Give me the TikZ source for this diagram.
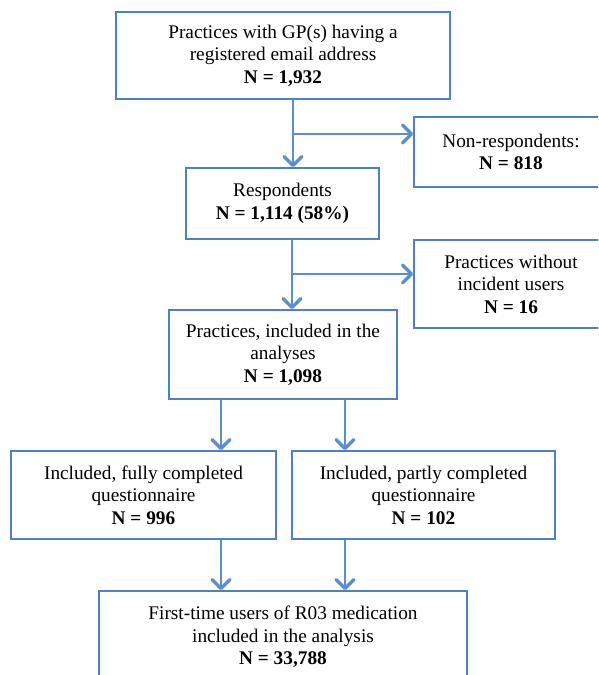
\documentclass[tikz,border=0pt]{standalone}
\usepackage{fontspec}
\setmainfont{Liberation Serif}
\usetikzlibrary{arrows.meta}
\definecolor{boxblue}{RGB}{79,129,189}
\definecolor{arrblue}{RGB}{92,143,202}
\begin{document}
\begin{tikzpicture}[x=1pt,y=-1pt,
  box/.style={draw=boxblue, line width=1.8pt, fill=white, align=center,
    inner sep=0pt, font=\fontsize{19.3}{22.5}\selectfont},
  arr/.style={draw=arrblue, line width=2.8pt, line join=round,
    -{Straight Barb[length=9pt,width=18pt,line width=3.2pt,line cap=round,line join=round]}}]
\useasboundingbox (0,0) rectangle (598,675);
\clip (0,0) rectangle (598,675);
\fill[white] (0,0) rectangle (598,675);

\node[box, minimum width=334pt, minimum height=87pt] (top) at (283,55.5)
  {Practices with GP(s) having a\\registered email address\\\textbf{N = 1,932}};
\node[box, minimum width=194pt, minimum height=70pt] (nonresp) at (511,152)
  {Non-respondents:\\\textbf{N = 818}};
\node[box, minimum width=193pt, minimum height=71pt] (resp) at (282.5,203.5)
  {Respondents\\\textbf{N = 1,114 (58\%)}};
\node[box, minimum width=194pt, minimum height=88pt] (without) at (511,284)
  {Practices without\\incident users\\\textbf{N = 16}};
\node[box, minimum width=228pt, minimum height=89pt] (incl) at (283,354.5)
  {Practices, included in the\\analyses\\\textbf{N = 1,098}};
\node[box, minimum width=265pt, minimum height=88pt] (fully) at (143.5,495)
  {Included, fully completed\\questionnaire\\\textbf{N = 996}};
\node[box, minimum width=263pt, minimum height=88pt] (partly) at (423.5,495)
  {Included, partly completed\\questionnaire\\\textbf{N = 102}};
\node[box, minimum width=368pt, minimum height=92pt] (final) at (283,637)
  {First-time users of R03 medication\\included in the analysis\\\textbf{N = 33,788}};

\coordinate (c1) at (293,0);
\coordinate (b1) at (293,134);
\coordinate (c2) at (292,0);
\coordinate (b2) at (292,274);
\coordinate (cl) at (221,0);
\coordinate (cr) at (345,0);

% connectors
\draw[arr] (top.south -| c1) -- (resp.north -| c1);
\draw[arr] (b1) -- (b1 -| nonresp.west);
\draw[arr] (resp.south -| c2) -- (incl.north -| c2);
\draw[arr] (b2) -- (b2 -| without.west);
\draw[arr] (incl.south -| cl) -- (fully.north -| cl);
\draw[arr] (incl.south -| cr) -- (partly.north -| cr);
\draw[arr] (fully.south -| cl) -- (final.north -| cl);
\draw[arr] (partly.south -| cr) -- (final.north -| cr);
\end{tikzpicture}
\end{document}
